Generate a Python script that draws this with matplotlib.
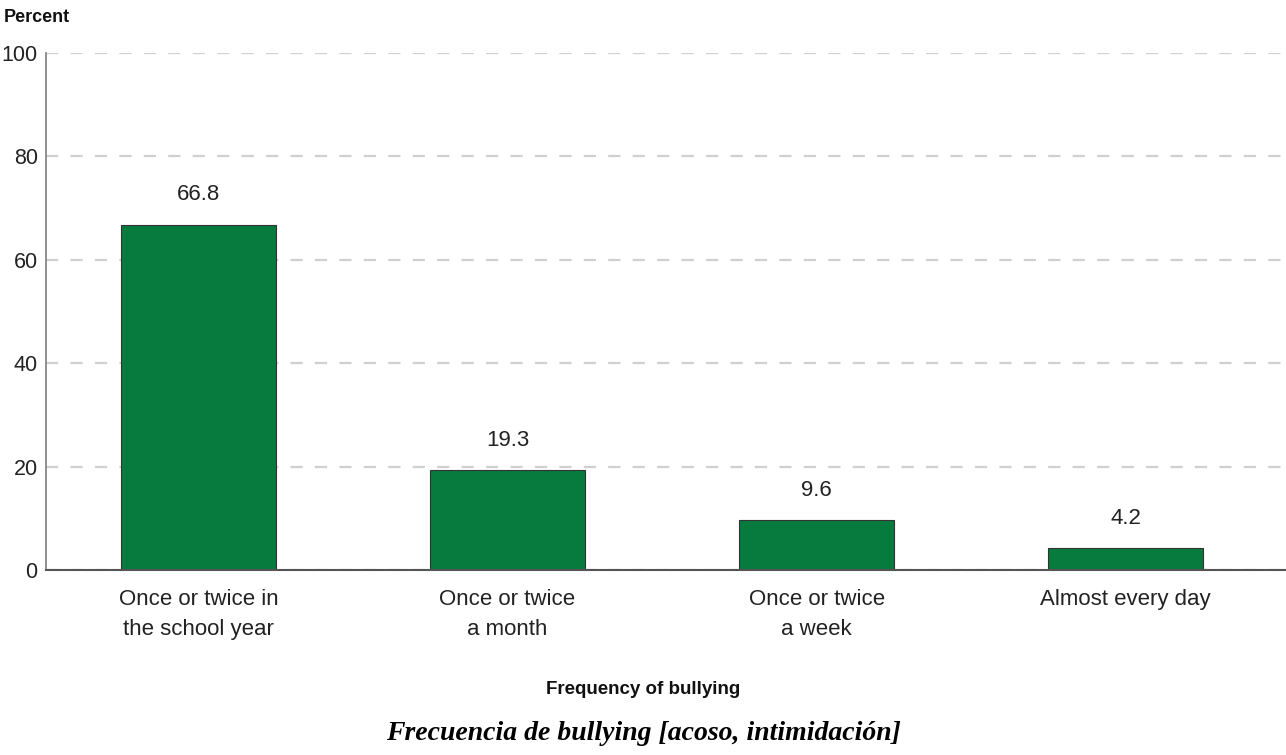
import matplotlib
matplotlib.use("Agg")
import matplotlib.pyplot as plt

categories = ["Once or twice in\nthe school year", "Once or twice\na month",
              "Once or twice\na week", "Almost every day"]
values = [66.8, 19.3, 9.6, 4.2]
yticks = [0, 20, 40, 60, 80, 100]

plt.rcParams['font.family'] = ['Liberation Sans', 'DejaVu Sans']

fig = plt.figure(figsize=(12.86, 7.55), dpi=100)
ax = fig.add_axes([46/1286, 1-570/755, 1-46/1286, (570-53)/755])

x = list(range(len(categories)))
ax.bar(x, values, width=0.5, color="#077a3e", edgecolor="#333333", linewidth=0.8, zorder=3)
for xi, v in zip(x, values):
    ax.annotate(f"{v:.1f}", (xi, v), xytext=(0, 14), textcoords="offset points",
                ha="center", va="bottom", fontsize=16, color="#222222")

ax.set_xlim(-0.4935, 3.519)
ax.set_ylim(0, 100)
ax.set_yticks(yticks)
ax.set_yticklabels([str(t) for t in yticks], fontsize=15.5, color="#222222")
ax.set_xticks(x)
ax.set_xticklabels(categories, fontsize=16, color="#222222", linespacing=1.55)
ax.tick_params(axis='x', length=0, pad=14)
ax.tick_params(axis='y', length=0, pad=6)
ax.yaxis.grid(True, linestyle=(0, (5.5, 5.5)), color="#d0d0d0", linewidth=1.6, zorder=0)
ax.set_axisbelow(True)
for s in ["top", "right"]:
    ax.spines[s].set_visible(False)
ax.spines["left"].set_color("#888888")
ax.spines["left"].set_linewidth(1.3)
ax.spines["bottom"].set_color("#555555")
ax.spines["bottom"].set_linewidth(1.5)
ax.spines["bottom"].set_zorder(4)

fig.text(4/1286, 1-17/755, "Percent", fontsize=13, fontweight="bold", ha="left", va="center", color="#111111")
fig.text(643/1286, 1-690/755, "Frequency of bullying", fontsize=13.5, fontweight="bold",
         ha="center", va="center", color="#111111")
fig.text(643/1286, 1-733/755, "Frecuencia de bullying [acoso, intimidación]", fontsize=20,
         fontweight="bold", fontstyle="italic", family=["Liberation Serif", "DejaVu Serif"],
         ha="center", va="center", color="#000000")

fig.savefig("out.png", dpi=100)
